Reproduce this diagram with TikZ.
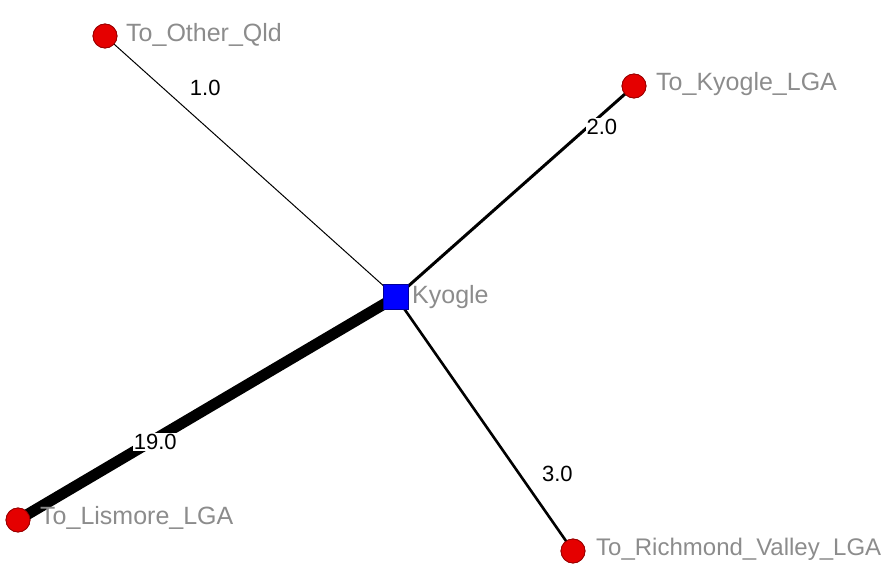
\documentclass[tikz,border=0pt]{standalone}
\usepackage{fontspec}
\setmainfont{Liberation Sans}
\begin{document}
\begin{tikzpicture}[x=1pt,y=-1pt,
  ext/.style={circle,fill=red!90!black,draw=red!60!black,line width=0.8pt,minimum size=24pt,inner sep=0pt},
  hub/.style={rectangle,fill=blue,draw=blue!60!black,line width=0.8pt,minimum size=25pt,inner sep=0pt},
  nlabel/.style={font=\fontsize{25}{27}\selectfont,text=gray!90,anchor=west,inner sep=0pt},
  elabel/.style={font=\fontsize{22}{24}\selectfont,text=black,fill=white,inner sep=1pt},
  edge/.style={draw=black,line cap=butt}]
\useasboundingbox (0,0) rectangle (895,570);
\node[hub] (ky) at (396,297) {};
\node[ext] (oq) at (105,36) {};
\node[ext] (kl) at (634,86) {};
\node[ext] (li) at (18,520) {};
\node[ext] (rv) at (573,551) {};
\draw[edge,line width=1pt] (ky.center) -- node[elabel,pos=0.8,xshift=42pt,fill=none] {1.0} (oq.center);
\draw[edge,line width=3pt] (ky.center) -- node[elabel,pos=0.806,xshift=14pt] {2.0} (kl.center);
\draw[edge,line width=11pt] (ky.center) -- node[elabel,pos=0.65,xshift=5pt] {19.0} (li.center);
\draw[edge,line width=2.6pt] (ky.center) -- node[elabel,pos=0.697,xshift=38pt,fill=none] {3.0} (rv.center);
\node[hub] at (ky) {};
\node[ext] at (oq) {};
\node[ext] at (kl) {};
\node[ext] at (li) {};
\node[ext] at (rv) {};
\node[nlabel] (t1) at (126,35) {To\_Other\_Qld};
\node[nlabel] (t2) at (656,84) {To\_Kyogle\_LGA};
\node[nlabel] (t3) at (412,297) {Kyogle};
\node[nlabel] (t4) at (40,518) {To\_Lismore\_LGA};
\node[nlabel,font=\fontsize{24}{26}\selectfont] (t5) at (596,549) {To\_Richmond\_Valley\_LGA};
\end{tikzpicture}
\end{document}
